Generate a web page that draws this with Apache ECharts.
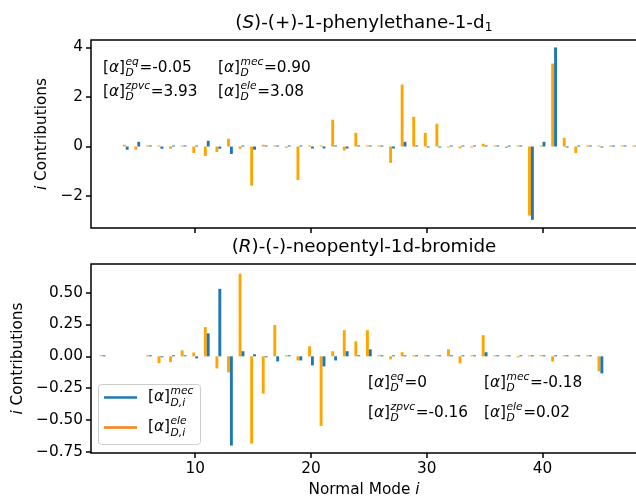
<!DOCTYPE html>
<html><head><meta charset="utf-8">
<script src="https://cdn.jsdelivr.net/npm/echarts@6/dist/echarts.min.js"></script>
<style>html,body{margin:0;padding:0;background:#fff}#c{width:636px;height:499px}</style>
</head><body><div id="c"></div><script>
// ---------- data ----------
const modesTop = [1,2,3,4,5,6,7,8,9,10,11,12,13,14,15,16,17,18,19,20,21,22,23,24,25,26,27,28,29,30,31,32,33,34,35,36,37,38,39,40,41,42,43,44,45,46,47,48];
const topMec = [null,null,null,-0.13,0.19,0.03,-0.09,0.03,0.03,0.03,0.23,-0.09,-0.30,0.03,-0.13,0.03,0.03,0.02,0.03,-0.08,-0.08,0.03,-0.08,0.02,0.02,0.01,-0.08,0.19,0.03,-0.04,-0.04,0.03,0.03,0.03,0.03,0.02,0.03,0.02,-2.96,0.19,4.00,-0.04,0.03,0.02,-0.04,0.02,0.02,0.02];
const topEle = [null,null,null,0.07,-0.13,0.03,0.03,-0.09,0.03,-0.26,-0.38,-0.22,0.31,-0.09,-1.58,0.07,0.03,-0.05,-1.35,0.03,0.03,1.08,-0.16,0.55,0.03,0.03,-0.66,2.50,1.20,0.55,0.92,-0.04,-0.08,-0.04,0.11,0.03,-0.06,0.03,-2.79,0.03,3.35,0.35,-0.26,0.03,0.03,0.03,0.03,0.03];
const modesBot = [1,2,3,4,5,6,7,8,9,10,11,12,13,14,15,16,17,18,19,20,21,22,23,24,25,26,27,28,29,30,31,32,33,34,35,36,37,38,39,40,41,42,43,44,45];
const botMec = [null,0.003,null,null,null,0.003,-0.005,0.003,0.008,-0.016,0.18,0.529,-0.70,0.04,0.016,-0.005,-0.04,0.003,-0.032,-0.071,-0.079,-0.032,0.04,0.003,0.055,0.003,0.003,0.003,0.003,0.003,0.003,0.003,0.003,0.003,0.032,0.003,0.003,0.005,0.003,0.003,0.008,0.003,0.003,0.003,-0.134];
const botEle = [null,0.005,null,null,null,0.008,-0.053,-0.045,0.047,0.03,0.229,-0.095,-0.126,0.647,-0.684,-0.292,0.245,0.005,-0.032,0.079,-0.545,0.04,0.205,0.118,0.205,0.005,-0.024,0.032,0.005,0.005,0.005,0.055,-0.055,0.005,0.166,0.005,0.005,-0.008,0.005,0.005,-0.04,0.005,0.005,0.005,-0.118];
const topTicks = [-2,0,2,4];
const botTicks = [-0.75,-0.5,-0.25,0,0.25,0.5];
const xTicks = [10,20,30,40];
const topTitle = ['(', 'S', ')-(+)-1-phenylethane-1-d', '1'];
const botTitle = ['(', 'R', ')-(-)-neopentyl-1d-bromide'];
const topAnn = [['eq','-0.05'],['mec','0.90'],['zpvc','3.93'],['ele','3.08']];
const botAnn = [['eq','0'],['mec','-0.18'],['zpvc','-0.16'],['ele','0.02']];
const legendItems = [['mec','#1f77b4'],['ele','#ff7f0e']];

// ---------- style ----------
const FAM = '"DejaVu Sans"';
const BLUE = '#1f77b4', ORANGE = '#ffa500';
const BAR_W = 0.25;
const FS = 15.3, TFS = 18.3;
const cv = document.createElement('canvas').getContext('2d');
function fnt(size, it){ return (it ? 'italic ' : '') + size + 'px ' + FAM; }
function tw(t, size, it){ cv.font = fnt(size, it); return cv.measureText(t).width; }
function txt(t, x, y, size, it, color){
  return {type:'text', x:x, y:y, silent:true, z:100,
    style:{text:t, font:fnt(size,it), fill:color||'#000', align:'left', verticalAlign:'middle'}};
}
// pieces: {t, it, s} or {sup, sub}
function compose(pieces, x0, y, size, center){
  const ss = size*0.7;
  const widths = pieces.map(p => p.t !== undefined ? tw(p.t, p.s||size, p.it) :
    Math.max(p.sup ? tw(p.sup, ss, true) : 0, p.sub ? tw(p.sub, ss, true) : 0) + 1);
  const total = widths.reduce((a,b)=>a+b,0);
  let x = center ? x0 - total/2 : x0;
  const els = [];
  pieces.forEach((p,i) => {
    if (p.t !== undefined) {
      els.push(txt(p.t, x, y + (p.dy||0), p.s||size, p.it));
    } else {
      if (p.sup) els.push(txt(p.sup, x+0.5, y - size*0.40, ss, true));
      if (p.sub) els.push(txt(p.sub, x+0.5, y + size*0.36, ss, true));
    }
    x += widths[i];
  });
  return els;
}
function alphaPieces(sup, sub){
  return [{t:'['},{t:'α', it:true},{t:']'},{sup:sup, sub:sub}];
}

function barRenderer(side, color){
  return function(params, api){
    const m = api.value(0), v = api.value(1);
    const base = api.coord([m, 0]);
    const tip = api.coord([m, v]);
    const w = api.size([BAR_W, 0])[0];
    const x = side < 0 ? base[0] - w : base[0];
    let y0 = Math.min(base[1], tip[1]);
    let h = Math.abs(tip[1] - base[1]);
    if (h < 1) { h = 1; y0 = v < 0 ? base[1] : base[1] - 1; }
    return {type:'rect', shape:{x:x, y:y0, width:w, height:h}, style:{fill:color}};
  };
}
function pairs(modes, vals){ return modes.map((m,i)=>[m, vals[i]]).filter(d => d[1] !== null); }
const minus = s => s.replace('-', '\u2212');

const GL = 91, GW = 546;
const grids = [
  {left:GL, top:40, width:GW, height:188, show:true, borderColor:'#000', borderWidth:1.5, backgroundColor:'transparent', outerBoundsMode:'none', containLabel:false},
  {left:GL, top:264, width:GW, height:189, show:true, borderColor:'#000', borderWidth:1.5, backgroundColor:'transparent', outerBoundsMode:'none', containLabel:false}
];
const tickStyle = {show:true, inside:false, length:5, lineStyle:{color:'#000', width:1.5}};
const labelBase = {color:'#000', fontSize:FS, fontFamily:FAM};
const richIt = {it:{fontStyle:'italic', fontSize:FS, fontFamily:FAM, color:'#000'}};
function xAxis(gi, showLabels){
  return {gridIndex:gi, type:'value', min:1, max:48.16, position:'bottom',
    axisLine:{show:false, onZero:false}, splitLine:{show:false},
    axisTick:Object.assign({customValues:xTicks}, tickStyle),
    axisLabel:Object.assign({show:showLabels, customValues:xTicks, margin:9}, labelBase),
    name: showLabels ? 'Normal Mode {it|i}' : '', nameLocation:'middle', nameGap:30,
    nameTextStyle:Object.assign({rich:richIt}, labelBase)};
}
function yAxis(gi, min, max, ticks, fmt){
  return {gridIndex:gi, type:'value', min:min, max:max, position:'left',
    axisLine:{show:false, onZero:false}, splitLine:{show:false},
    axisTick:Object.assign({customValues:ticks}, tickStyle),
    axisLabel:Object.assign({customValues:ticks, margin:8, formatter:fmt}, labelBase),
    name:'{it|i} Contributions', nameLocation:'middle', nameGap:40, nameRotate:90,
    nameTextStyle:Object.assign({rich:richIt}, labelBase)};
}

// ---------- graphics (titles, annotations, legend) ----------
const g = [];
const cx = GL + GW/2;
g.push(...compose([{t:topTitle[0]},{t:topTitle[1], it:true},{t:topTitle[2]},{t:topTitle[3], s:TFS*0.7, dy:4.5}], cx, 23, TFS, true));
g.push(...compose([{t:botTitle[0]},{t:botTitle[1], it:true},{t:botTitle[2]}], cx, 247, TFS, true));
function annBlock(list, x1, x2, y1, y2){
  const pos = [[x1,y1],[x2,y1],[x1,y2],[x2,y2]];
  list.forEach((a,i) => {
    g.push(...compose(alphaPieces(a[0],'D').concat([{t:'='+a[1]}]), pos[i][0], pos[i][1], FS, false));
  });
}
annBlock(topAnn, 103, 218, 68, 92);
annBlock(botAnn, 368, 484, 383, 413);
// legend box
g.push({type:'rect', silent:true, z:90, shape:{x:98.5, y:384.5, width:102, height:60, r:3},
  style:{fill:'rgba(255,255,255,0.8)', stroke:'#cccccc', lineWidth:1}});
legendItems.forEach((it,i) => {
  const y = 397.5 + i*30;
  g.push({type:'line', silent:true, z:95, shape:{x1:104, y1:y, x2:137, y2:y}, style:{stroke:it[1], lineWidth:2.5}});
  g.push(...compose(alphaPieces(it[0],'D,i'), 148, y, FS, false));
});

const chart = echarts.init(document.getElementById('c'), null, {renderer:'canvas'});
chart.setOption({
  animation:false,
  backgroundColor:'#fff',
  grid:grids,
  xAxis:[xAxis(0,false), xAxis(1,true)],
  yAxis:[
    yAxis(0, -3.29, 4.30, topTicks, v => minus(String(v))),
    yAxis(1, -0.758, 0.724, botTicks, v => minus(v.toFixed(2)))
  ],
  series:[
    {type:'custom', name:'ele top', xAxisIndex:0, yAxisIndex:0, renderItem:barRenderer(-1, ORANGE), data:pairs(modesTop, topEle), encode:{x:0,y:1}},
    {type:'custom', name:'mec top', xAxisIndex:0, yAxisIndex:0, renderItem:barRenderer(1, BLUE), data:pairs(modesTop, topMec), encode:{x:0,y:1}},
    {type:'custom', name:'ele bot', xAxisIndex:1, yAxisIndex:1, renderItem:barRenderer(-1, ORANGE), data:pairs(modesBot, botEle), encode:{x:0,y:1}},
    {type:'custom', name:'mec bot', xAxisIndex:1, yAxisIndex:1, renderItem:barRenderer(1, BLUE), data:pairs(modesBot, botMec), encode:{x:0,y:1}}
  ],
  graphic:g
});
</script></body></html>
